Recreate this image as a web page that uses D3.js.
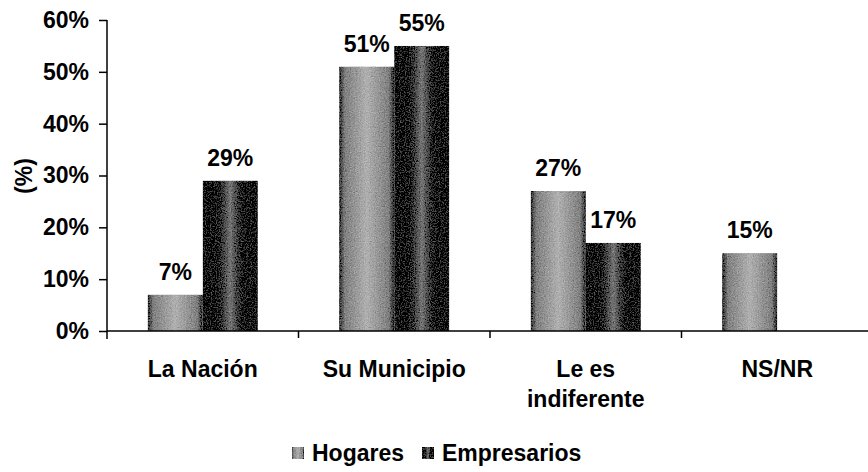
<!DOCTYPE html>
<html><head>
<meta charset="utf-8">
<script src="https://d3js.org/d3.v7.min.js"></script>
<style>
  body { margin: 0; background: #fff; }
  svg text { font-family: "Liberation Sans", Arial, sans-serif; font-weight: bold; fill: #000; font-size: 23px; }
  .axis path, .axis line { stroke: #000; stroke-width: 1.5px; }
</style>
</head>
<body>
<svg id="chart" width="868" height="472"></svg>
<script>
  // data
  const categories = ["La Nación", "Su Municipio", "Le es|indiferente", "NS/NR"];
  const seriesNames = ["Hogares", "Empresarios"];
  const hogares = [7, 51, 27, 15];
  const empresarios = [29, 55, 17, null];
  const yTicks = [0, 10, 20, 30, 40, 50, 60];

  const svg = d3.select("svg#chart");
  const margins = {top: 20, left: 107, bottom: 141};
  const plotBottom = 472 - margins.bottom;

  // gradients + grain to fake the scanned texture
  const defs = svg.append("defs");
  const grads = {
    Hogares: [["0%", "#2a2a2a"], ["10%", "#808080"], ["50%", "#b0b0b0"], ["90%", "#808080"], ["100%", "#2a2a2a"]],
    Empresarios: [["0%", "#000"], ["25%", "#0d0d0d"], ["50%", "#777"], ["75%", "#0d0d0d"], ["100%", "#000"]]
  };
  Object.keys(grads).forEach(k => {
    const g = defs.append("linearGradient").attr("id", "grad-" + k)
      .attr("x1", "0%").attr("x2", "100%").attr("y1", "0%").attr("y2", "0%");
    grads[k].forEach(s => g.append("stop").attr("offset", s[0]).attr("stop-color", s[1]));
  });
  const noise = defs.append("filter").attr("id", "grain")
    .attr("x", "0%").attr("y", "0%").attr("width", "100%").attr("height", "100%");
  noise.append("feTurbulence").attr("type", "fractalNoise").attr("baseFrequency", 0.8).attr("numOctaves", 2).attr("seed", 3).attr("result", "n");
  noise.append("feColorMatrix").attr("in", "n").attr("type", "matrix")
    .attr("values", "0.33 0.33 0.33 0 0  0.33 0.33 0.33 0 0  0.33 0.33 0.33 0 0  0 0 0 0 1").attr("result", "ng");
  noise.append("feComposite").attr("in", "SourceGraphic").attr("in2", "ng").attr("operator", "arithmetic")
    .attr("k1", 0).attr("k2", 1).attr("k3", 0.6).attr("k4", -0.3).attr("result", "mix");
  noise.append("feComposite").attr("in", "mix").attr("in2", "SourceAlpha").attr("operator", "in");

  // scales
  const x = d3.scaleBand().domain(categories).range([margins.left, 873]).padding(0);
  const sub = d3.scaleBand().domain(seriesNames).range([-55, 55]).padding(0);
  const y = d3.scaleLinear().domain([0, 60]).range([plotBottom, margins.top]);

  // bars
  const rows = categories.map((c, i) => ({cat: c, vals: [hogares[i], empresarios[i]]}));
  const groups = svg.selectAll("g.grp").data(rows).join("g").attr("class", "grp")
    .attr("transform", d => "translate(" + (x(d.cat) + x.bandwidth() / 2) + ",0)");
  const bars = groups.selectAll("g.bar")
    .data(d => d.vals.map((v, j) => ({name: seriesNames[j], v: v})).filter(b => b.v != null))
    .join("g").attr("class", "bar");
  bars.append("rect")
    .attr("x", d => sub(d.name))
    .attr("width", sub.bandwidth())
    .attr("y", d => y(d.v))
    .attr("height", d => y(0) - y(d.v))
    .attr("fill", d => "url(#grad-" + d.name + ")")
    .attr("filter", "url(#grain)");
  bars.append("text")
    .attr("x", d => sub(d.name) + sub.bandwidth() / 2)
    .attr("y", d => y(d.v) - 15)
    .attr("text-anchor", "middle")
    .text(d => d.v + "%");

  // y axis
  const leftAxis = d3.axisLeft(y).tickValues(yTicks).tickFormat(d => d + "%").tickSize(8).tickPadding(10);
  const ya = svg.append("g").attr("class", "axis")
    .attr("transform", "translate(" + margins.left + ",0)")
    .call(leftAxis);
  ya.select(".domain").attr("d", "M0," + margins.top + "V" + (plotBottom + 8));
  ya.selectAll("text").attr("font-size", null).attr("font-family", null);

  // x axis line + category boundary ticks
  svg.append("line").attr("x1", margins.left).attr("x2", 868)
    .attr("y1", plotBottom).attr("y2", plotBottom)
    .attr("stroke", "#000").attr("stroke-width", 1.5);
  svg.selectAll("line.ctick").data(categories.slice(1)).join("line").attr("class", "ctick")
    .attr("x1", d => x(d)).attr("x2", d => x(d))
    .attr("y1", plotBottom).attr("y2", plotBottom + 7)
    .attr("stroke", "#000").attr("stroke-width", 1.5);

  // category labels, "|" splits lines
  const clab = svg.selectAll("text.cat").data(categories).join("text").attr("class", "cat")
    .attr("text-anchor", "middle")
    .attr("transform", d => "translate(" + (x(d) + x.bandwidth() / 2) + "," + 377 + ")");
  clab.selectAll("tspan").data(d => d.split("|")).join("tspan")
    .attr("x", 0).attr("dy", (d, i) => i == 0 ? 0 : 30).text(d => d);

  // y title
  svg.append("text").attr("transform", "translate(32,176) rotate(-90)")
    .attr("text-anchor", "middle").text("(%)");

  // legend
  const legX = [292, 422];
  const leg = svg.selectAll("g.leg").data(seriesNames).join("g").attr("class", "leg")
    .attr("transform", (d, i) => "translate(" + legX[i] + ",447)");
  leg.append("rect").attr("width", 12).attr("height", 12)
    .attr("fill", d => "url(#grad-" + d + ")").attr("filter", "url(#grain)");
  leg.append("text").attr("x", 20).attr("y", 14).text(d => d);
</script>
</body>
</html>
